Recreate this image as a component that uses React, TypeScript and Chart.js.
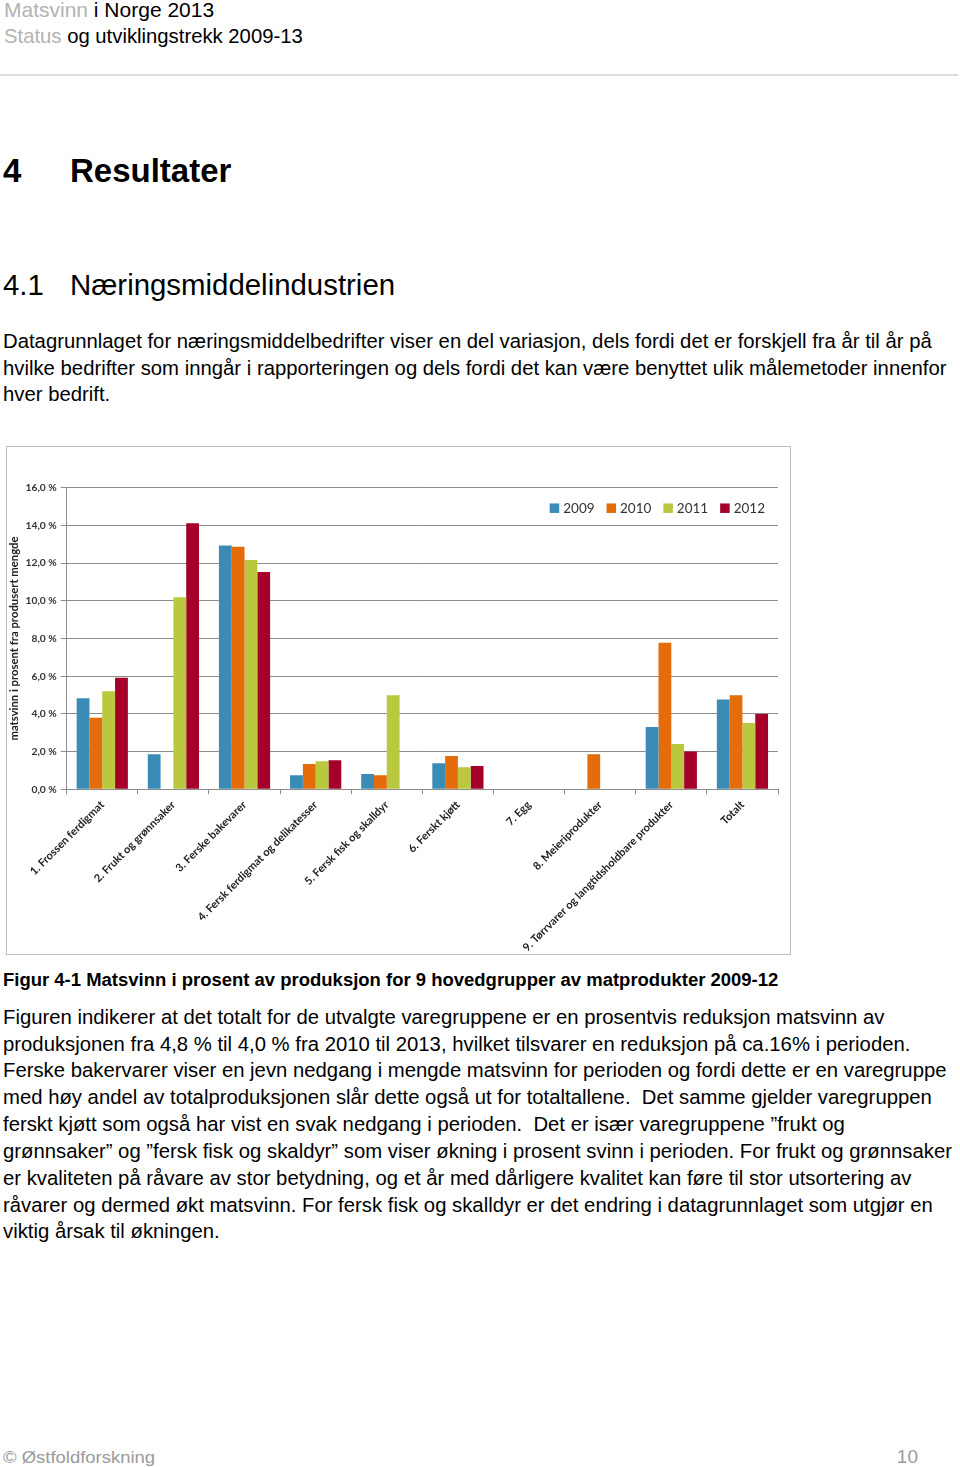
import React, { useEffect, useRef } from 'react';
import { Chart, registerables } from 'chart.js';

Chart.register(...registerables);

const categories: string[] = [
  '1. Frossen ferdigmat',
  '2. Frukt og grønnsaker',
  '3. Ferske bakevarer',
  '4. Fersk ferdigmat og delikatesser',
  '5. Fersk fisk og skalldyr',
  '6. Ferskt kjøtt',
  '7. Egg',
  '8. Meieriprodukter',
  '9. Tørrvarer og langtidsholdbare produkter',
  'Totalt',
];

const seriesNames: string[] = ['2009', '2010', '2011', '2012'];
const values2009: (number | null)[] = [4.83, 1.86, 12.93, 0.74, 0.81, 1.38, null, null, 3.31, 4.77];
const values2010: (number | null)[] = [3.8, null, 12.87, 1.34, 0.74, 1.77, null, 1.86, 7.78, 4.99];
const values2011: (number | null)[] = [5.2, 10.19, 12.17, 1.49, 4.99, 1.17, null, null, 2.4, 3.52];
const values2012: (number | null)[] = [5.92, 14.11, 11.53, 1.54, null, 1.24, null, null, 2.0, 4.0];
const seriesColors: string[] = ['#3a8cb6', '#e46c0a', '#b9c83e', '#a5002a'];

const yMin = 0;
const yMax = 16;
const yStep = 2;
const yTitle = 'matsvinn i prosent fra produsert mengde';

const para1: string[] = [
  'Datagrunnlaget for næringsmiddelbedrifter viser en del variasjon, dels fordi det er forskjell fra år til år på',
  'hvilke bedrifter som inngår i rapporteringen og dels fordi det kan være benyttet ulik målemetoder innenfor',
  'hver bedrift.',
];

const para2: string[] = [
  'Figuren indikerer at det totalt for de utvalgte varegruppene er en prosentvis reduksjon matsvinn av',
  'produksjonen fra 4,8 % til 4,0 % fra 2010 til 2013, hvilket tilsvarer en reduksjon på ca.16% i perioden.',
  'Ferske bakervarer viser en jevn nedgang i mengde matsvinn for perioden og fordi dette er en varegruppe',
  'med høy andel av totalproduksjonen slår dette også ut for totaltallene.  Det samme gjelder varegruppen',
  'ferskt kjøtt som også har vist en svak nedgang i perioden.  Det er især varegruppene ”frukt og',
  'grønnsaker” og ”fersk fisk og skaldyr” som viser økning i prosent svinn i perioden. For frukt og grønnsaker',
  'er kvaliteten på råvare av stor betydning, og et år med dårligere kvalitet kan føre til stor utsortering av',
  'råvarer og dermed økt matsvinn. For fersk fisk og skalldyr er det endring i datagrunnlaget som utgjør en',
  'viktig årsak til økningen.',
];

const FONT = '"Liberation Sans", Arial, sans-serif';

function T(props: {
  x: number;
  base: number;
  size: number;
  bold?: boolean;
  color?: string;
  sx?: number;
  children: React.ReactNode;
}) {
  const { x, base, size, bold, color, sx, children } = props;
  return (
    <div
      style={{
        position: 'absolute',
        left: x,
        top: base - 0.8465 * size,
        fontSize: size,
        lineHeight: size + 'px',
        fontFamily: FONT,
        fontWeight: bold ? 'bold' : 'normal',
        color: color || '#000',
        whiteSpace: 'pre',
        transform: sx ? `scaleX(${sx})` : undefined,
        transformOrigin: 'left center',
      }}
    >
      {children}
    </div>
  );
}

const insideLegend = {
  id: 'insideLegend',
  afterDraw(chart: any) {
    const ctx = chart.ctx as CanvasRenderingContext2D;
    const area = chart.chartArea;
    ctx.save();
    ctx.font = '13.5px Lato';
    ctx.textBaseline = 'middle';
    const box = 9.5;
    const gap = 4;
    const itemGap = 12;
    const items = chart.data.datasets.map((ds: any) => ({
      label: String(ds.label),
      color: ds.backgroundColor,
      tw: ctx.measureText(String(ds.label)).width,
    }));
    const total =
      items.reduce((a: number, it: any) => a + box + gap + it.tw, 0) + itemGap * (items.length - 1);
    let x = area.right - 13 - total;
    const cy = area.top + 20.5;
    for (const it of items) {
      ctx.fillStyle = it.color;
      ctx.fillRect(x, cy - box / 2, box, box);
      ctx.fillStyle = '#333';
      ctx.fillText(it.label, x + box + gap, cy + 0.5);
      x += box + gap + it.tw + itemGap;
    }
    ctx.restore();
  },
};

function BarChart() {
  const ref = useRef<HTMLCanvasElement | null>(null);
  useEffect(() => {
    if (!ref.current) return;
    const allValues = [values2009, values2010, values2011, values2012];
    const chart = new Chart(ref.current, {
      type: 'bar',
      data: {
        labels: categories,
        datasets: seriesNames.map((name, i) => ({
          label: name,
          data: allValues[i],
          backgroundColor: seriesColors[i],
          borderWidth: 0,
          categoryPercentage: 0.72,
          barPercentage: 1,
        })),
      },
      plugins: [insideLegend],
      options: {
        responsive: false,
        animation: false,
        layout: { padding: { top: 40.7, right: 12, bottom: 0, left: 0 } },
        plugins: {
          tooltip: { enabled: false },
          legend: { display: false },
        },
        scales: {
          x: {
            afterFit: (s: any) => {
              s.height = 164.7;
            },
            grid: {
              offset: true,
              drawOnChartArea: false,
              tickLength: 5,
              color: '#8c8c8c',
            },
            border: { color: '#8c8c8c' },
            ticks: {
              autoSkip: false,
              maxRotation: 45,
              minRotation: 45,
              padding: 4,
              color: '#222',
              font: { family: 'Lato', size: 11, weight: 'bold' },
            },
          },
          y: {
            min: yMin,
            max: yMax,
            afterFit: (s: any) => {
              s.width = 59.7;
            },
            grid: { color: '#8c8c8c', tickLength: 6 },
            border: { color: '#8c8c8c' },
            title: {
              display: true,
              text: yTitle,
              color: '#222',
              padding: 1,
              font: { family: 'Lato', size: 11.3, weight: 'bold' },
            },
            ticks: {
              stepSize: yStep,
              padding: 4,
              color: '#333',
              font: { family: 'Lato', size: 10.3, weight: 'bold' },
              callback: (v: any) => Number(v).toFixed(1).replace('.', ',') + ' %',
            },
          },
        },
      },
    });
    return () => chart.destroy();
  }, []);
  return <canvas ref={ref} width={783} height={507} style={{ display: 'block' }} />;
}

export default function App() {
  return (
    <div
      style={{
        position: 'absolute',
        left: 0,
        top: 0,
        width: 960,
        height: 1467,
        background: '#fff',
        overflow: 'hidden',
      }}
    >
      <T x={4} base={17} size={21} color="#000">
        <span style={{ color: '#b3b3b3' }}>Matsvinn</span> i Norge 2013
      </T>
      <T x={4} base={43.5} size={20.3} color="#000">
        <span style={{ color: '#b3b3b3' }}>Status</span> og utviklingstrekk 2009-13
      </T>
      <div style={{ position: 'absolute', left: 0, top: 74, width: 958, height: 2, background: '#dcdcdc' }} />

      <T x={3} base={182} size={33} bold>4</T>
      <T x={70} base={182} size={33} bold>Resultater</T>

      <T x={3} base={295} size={29.4}>4.1</T>
      <T x={70} base={295} size={29.4}>Næringsmiddelindustrien</T>

      {para1.map((line, i) => (
        <T key={'p1' + i} x={3} base={348.3 + i * 26.7} size={19.3} sx={1.053}>
          {line}
        </T>
      ))}

      <div
        style={{
          position: 'absolute',
          left: 6,
          top: 446,
          width: 783,
          height: 507,
          border: '1px solid #c0c0c0',
          background: '#fff',
        }}
      >
        <BarChart />
      </div>

      <T x={3} base={986.5} size={17.5} bold sx={1.056}>
        Figur 4-1 Matsvinn i prosent av produksjon for 9 hovedgrupper av matprodukter 2009-12
      </T>

      {para2.map((line, i) => (
        <T key={'p2' + i} x={3} base={1024 + i * 26.85} size={19.3} sx={1.053}>
          {line}
        </T>
      ))}

      <T x={3} base={1463} size={17} color="#9a9a9a" sx={1.086}>
        © Østfoldforskning
      </T>
      <div
        style={{
          position: 'absolute',
          right: 42,
          top: 1463 - 0.8465 * 19,
          fontSize: 19,
          lineHeight: '19px',
          fontFamily: FONT,
          color: '#9a9a9a',
        }}
      >
        10
      </div>
    </div>
  );
}
